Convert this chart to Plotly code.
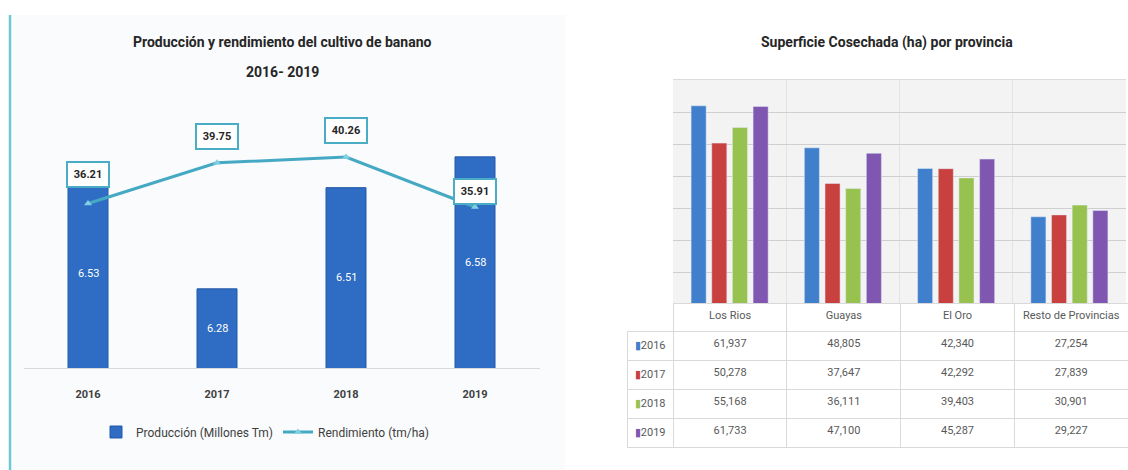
import plotly.graph_objects as go

# Banana production (million t) and yield (t/ha) by year
years = ["2016", "2017", "2018", "2019"]
produccion = [6.53, 6.28, 6.51, 6.58]
rendimiento = [36.21, 39.75, 40.26, 35.91]

# Harvested area (ha) by province, one list per year
provincias = ["Los Rios", "Guayas", "El Oro", "Resto de Provincias"]
sup_2016 = [61937, 48805, 42340, 27254]
sup_2017 = [50278, 37647, 42292, 27839]
sup_2018 = [55168, 36111, 39403, 30901]
sup_2019 = [61733, 47100, 45287, 29227]

W, H = 1128, 470


def fx(px):
    return px / W


def fy(py):
    return 1 - py / H


FONT = "Liberation Sans Narrow, Arial Narrow, Roboto, Arial, sans-serif"
TEAL = "#45a9c4"
BAR_BLUE = "#2f6cc3"
YEAR_COLORS = ["#3f7fcc", "#c9413f", "#98c24f", "#7f57b0"]

PROD_RANGE = [6.10, 6.732]

fig = go.Figure()

# ---- left chart: production bars + yield line ----
fig.add_trace(go.Bar(
    x=years, y=produccion, name="Producción (Millones Tm)",
    width=0.31,
    marker=dict(color=BAR_BLUE, line=dict(color="#2459a8", width=1)),
    xaxis="x", yaxis="y",
))
fig.add_trace(go.Scatter(
    x=years, y=rendimiento, name="Rendimiento (tm/ha)",
    mode="lines+markers",
    line=dict(color=TEAL, width=3),
    marker=dict(symbol="triangle-up", size=7, color="#7fd0e2"),
    xaxis="x", yaxis="y2",
))

annotations = []
# production values, centred in the visible part of each bar
for i, v in enumerate(produccion):
    annotations.append(dict(
        x=i, y=(PROD_RANGE[0] + v) / 2, xref="x", yref="y",
        xanchor="center", yanchor="middle", showarrow=False,
        text=f"{v:.2f}", font=dict(size=11, color="white", family=FONT),
    ))

# boxed value labels above the yield points (x given as category index)
label_lift = [29, 26, 26, 15]
for i, (v, lift) in enumerate(zip(rendimiento, label_lift)):
    annotations.append(dict(
        x=i, y=v, xref="x", yref="y2", yshift=lift,
        xanchor="center", yanchor="middle",
        text=f"<b>{v:.2f}</b>", showarrow=False,
        bgcolor="white", bordercolor="#4bacc6", borderwidth=2, borderpad=5,
        width=30, font=dict(size=11, color="#262626", family=FONT),
    ))

# ---- right chart: harvested area by province ----
for yr, vals, col in zip(years, [sup_2016, sup_2017, sup_2018, sup_2019], YEAR_COLORS):
    fig.add_trace(go.Bar(
        x=provincias, y=vals, name=yr, marker=dict(color=col),
        showlegend=False, xaxis="x2", yaxis="y3",
    ))

# "<br>" keeps the table from splitting the coloured key markup on spaces
year_cells = [f"<span style='color:{c}'>▮</span>{y}<br>" for y, c in zip(years, YEAR_COLORS)]
header_cells = [""] + [p.replace(" ", "\u00a0") for p in provincias]
columns = [year_cells] + [[s[i] for s in (sup_2016, sup_2017, sup_2018, sup_2019)]
                          for i in range(len(provincias))]
fig.add_trace(go.Table(
    domain=dict(x=[fx(627), fx(1128)], y=[fy(448), fy(303)]),
    columnwidth=[46, 113, 113, 113, 113],
    header=dict(
        values=header_cells, height=28, align="center",
        fill=dict(color="white"),
        line=dict(color=["rgba(0,0,0,0)"] + ["#d9d9d9"] * 4, width=1),
        font=dict(size=11, color="#595959", family=FONT),
    ),
    cells=dict(
        values=columns, height=29, align="center",
        format=["", ",", ",", ",", ","],
        fill=dict(color="white"),
        line=dict(color="#d9d9d9", width=1),
        font=dict(size=11, color="#595959", family=FONT),
    ),
))

title_font = dict(size=14, color="#262626", family=FONT)
annotations += [
    dict(x=fx(282), y=fy(42), xref="paper", yref="paper", showarrow=False,
         xanchor="center", yanchor="middle",
         text="<b>Producción y rendimiento del cultivo de banano</b>", font=title_font),
    dict(x=fx(282), y=fy(72), xref="paper", yref="paper", showarrow=False,
         xanchor="center", yanchor="middle",
         text="<b>2016- 2019</b>", font=title_font),
    dict(x=fx(887), y=fy(43), xref="paper", yref="paper", showarrow=False,
         xanchor="center", yanchor="middle",
         text="<b>Superficie Cosechada (ha) por provincia</b>", font=title_font),
]

shapes = [
    # left panel background and its teal edge
    dict(type="rect", xref="paper", yref="paper", x0=fx(10), x1=fx(565), y0=0, y1=fy(15),
         fillcolor="#f9fbfc", line=dict(width=0), layer="below"),
    dict(type="line", xref="paper", yref="paper", x0=fx(10), x1=fx(10), y0=0, y1=fy(15),
         line=dict(color="#6cc9d3", width=2.5)),
]

fig.update_layout(
    width=W, height=H,
    margin=dict(l=0, r=0, t=0, b=0),
    paper_bgcolor="white",
    plot_bgcolor="rgba(0,0,0,0)",
    barmode="group", bargap=0.27, bargroupgap=0.27,
    font=dict(family=FONT, color="#404040"),
    showlegend=True,
    legend=dict(orientation="h", x=fx(265), y=fy(432), xanchor="center", yanchor="middle",
                font=dict(size=12, color="#404040", family=FONT),
                bgcolor="rgba(0,0,0,0)", itemwidth=30),
    xaxis=dict(domain=[fx(23.5), fx(539.5)], anchor="y", type="category",
               showline=True, linecolor="#d9d9d9", linewidth=1, showgrid=False,
               ticks="", tickfont=dict(size=11, color="#404040", family=FONT),
               ticklabelstandoff=16, tickprefix="<b>", ticksuffix="</b>"),
    yaxis=dict(domain=[fy(368), fy(90)], range=PROD_RANGE, visible=False),
    yaxis2=dict(domain=[fy(368), fy(90)], range=[21.9, 46.09], overlaying="y",
                side="right", visible=False),
    xaxis2=dict(domain=[fx(673), fx(1126)], anchor="y3", type="category",
                tickson="boundaries", showgrid=True, gridcolor="#e3e3e3",
                showticklabels=False, ticks="", showline=True, linecolor="#dcdcdc",
                mirror=True),
    yaxis3=dict(domain=[fy(304), fy(80)], anchor="x2", range=[0, 70000], dtick=10000,
                showgrid=True, gridcolor="#cfcfcf", showticklabels=False,
                zeroline=False, showline=False),
    annotations=annotations,
    shapes=shapes,
)

# light grey plot area behind the province bars
fig.add_shape(type="rect", xref="x2 domain", yref="y3 domain", x0=0, x1=1, y0=0, y1=1,
              fillcolor="#f3f3f3", line=dict(width=0), layer="below")

fig.write_html("out.html")
